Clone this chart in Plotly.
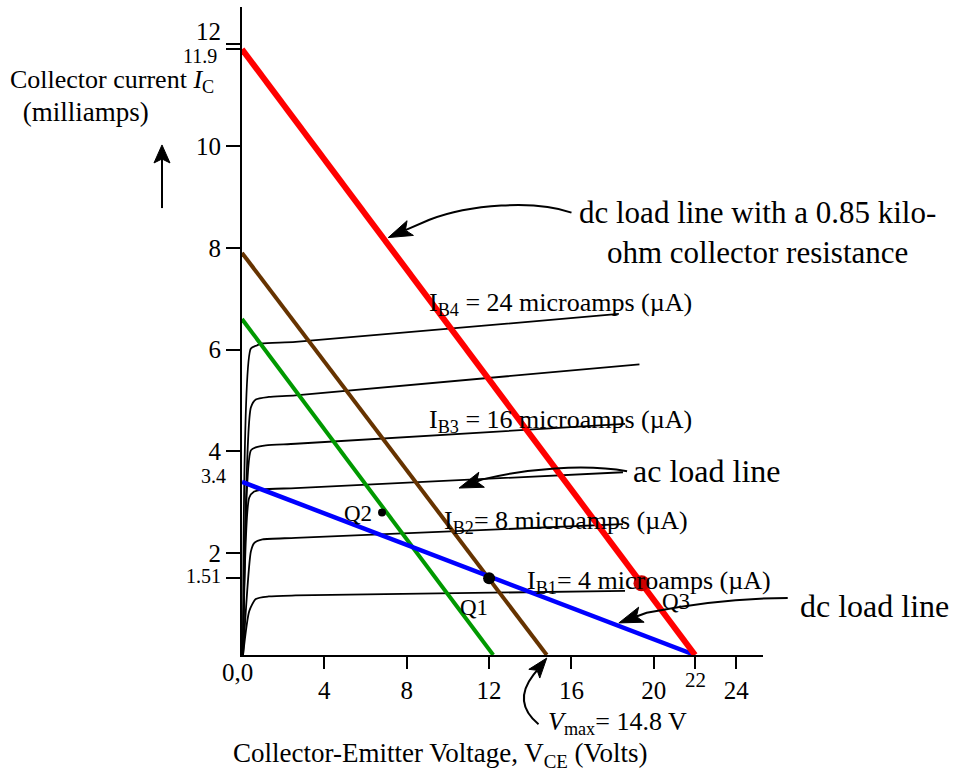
import math
import plotly.graph_objects as go

SERIF = "Liberation Serif"

# ---- axis extents (volts, milliamps) and plot-area size in px ----
X_MAX = 25.3
Y_MAX = 12.73
PLOT_W = 521
PLOT_H = 648
PX_PER_V = PLOT_W / X_MAX
PX_PER_MA = PLOT_H / Y_MAX

# ---- transistor output characteristics, one curve per base current ----
vce_c1 = [0.05, 0.43, 0.72, 0.96, 2.6, 18.3]
ic_c1 = [0.0, 6.02, 6.08, 6.12, 6.15, 6.70]
vce_c2 = [0.05, 0.43, 0.67, 1.3, 2.6, 19.3]
ic_c2 = [0.0, 4.86, 5.02, 5.07, 5.10, 5.71]
vce_c3 = [0.05, 0.43, 0.67, 1.16, 2.6, 18.6]
ic_c3 = [0.0, 4.02, 4.08, 4.12, 4.15, 4.54]
vce_c4 = [0.05, 0.35, 0.59, 1.0, 2.6, 18.5]
ic_c4 = [0.0, 3.09, 3.21, 3.25, 3.28, 3.59]
vce_c5 = [0.05, 0.43, 0.59, 1.0, 2.6, 18.5]
ic_c5 = [0.0, 2.03, 2.20, 2.27, 2.30, 2.57]
vce_c6 = [0.05, 0.35, 0.67, 1.3, 2.6, 18.6]
ic_c6 = [0.0, 0.86, 1.10, 1.15, 1.17, 1.26]

# ---- load lines ----
red_v, red_i = [0, 22], [11.9, 0]        # dc load line, 0.85 kOhm
brown_v, brown_i = [0, 14.8], [7.9, 0]   # ac load line, Vmax = 14.8 V
green_v, green_i = [0, 12.2], [6.6, 0]
blue_v, blue_i = [0, 22], [3.4, 0]       # dc load line

# ---- operating points ----
q1_v, q1_i = 12.0, 1.51
q2_v, q2_i = 6.8, 2.8
q3_v, q3_i = 19.4, 1.41

# ---- axis ticks ----
x_tickvals = [4, 8, 12, 16, 20, 22, 24]
x_ticktext = ["4", "8", "12", "16", "20", "", "24"]
y_tickvals = [1.51, 2, 4, 6, 8, 10, 11.9, 12]
y_ticktext = ["", "2", "4", "6", "8", "10", "", ""]


def to_px(v, i):
    return v * PX_PER_V, -i * PX_PER_MA


def from_px(x, y):
    return x / PX_PER_V, -y / PX_PER_MA


def pp(v, i):
    return f"{v / X_MAX:.5f},{i / Y_MAX:.5f}"


def curved_arrow(start, c1, c2, end, tip, head_len=24, head_half=8, width=2):
    tx, ty = to_px(*tip)
    ex, ey = to_px(*end)
    d = math.hypot(tx - ex, ty - ey)
    ux, uy = (tx - ex) / d, (ty - ey) / d
    nx, ny = -uy, ux
    bx, by = tx - head_len * ux, ty - head_len * uy
    notch = from_px(bx + 0.22 * head_len * ux, by + 0.22 * head_len * uy)
    p1 = from_px(bx + head_half * nx, by + head_half * ny)
    p2 = from_px(bx - head_half * nx, by - head_half * ny)
    body = (f"M{pp(*start)} C{pp(*c1)} {pp(*c2)} {pp(*end)} L{pp(*notch)}")
    head = f"M{pp(*tip)} L{pp(*p1)} L{pp(*notch)} L{pp(*p2)} Z"
    return [
        dict(type="path", xref="paper", yref="paper", path=body,
             line=dict(color="black", width=width), fillcolor="rgba(0,0,0,0)"),
        dict(type="path", xref="paper", yref="paper", path=head,
             line=dict(color="black", width=1), fillcolor="black"),
    ]


fig = go.Figure()

for vv, ii in [(vce_c1, ic_c1), (vce_c2, ic_c2), (vce_c3, ic_c3),
               (vce_c4, ic_c4), (vce_c5, ic_c5), (vce_c6, ic_c6)]:
    fig.add_trace(go.Scatter(x=vv, y=ii, mode="lines",
                             line=dict(color="black", width=1.8, shape="spline", smoothing=0.6),
                             hoverinfo="skip"))

fig.add_trace(go.Scatter(x=green_v, y=green_i, mode="lines", line=dict(color="#009900", width=4)))
fig.add_trace(go.Scatter(x=brown_v, y=brown_i, mode="lines", line=dict(color="#663300", width=4)))
fig.add_trace(go.Scatter(x=blue_v, y=blue_i, mode="lines", line=dict(color="#0000ff", width=4.5)))
fig.add_trace(go.Scatter(x=red_v, y=red_i, mode="lines", line=dict(color="#ff0000", width=6)))

fig.add_trace(go.Scatter(x=[q1_v], y=[q1_i], mode="markers", marker=dict(size=12, color="black")))
fig.add_trace(go.Scatter(x=[q2_v], y=[q2_i], mode="markers", marker=dict(size=8, color="black")))
fig.add_trace(go.Scatter(x=[q3_v], y=[q3_i], mode="markers", marker=dict(size=16, color="#cc0000")))

shapes = []
# dc load line (red) callout
shapes += curved_arrow((16.0, 8.69), (14.2, 8.95), (11.0, 8.85), (9.1, 8.55), (7.1, 8.2))
# ac load line callout
shapes += curved_arrow((18.7, 3.61), (16.6, 3.76), (13.8, 3.66), (11.68, 3.45), (10.54, 3.28))
# dc load line (blue) callout
shapes += curved_arrow((26.5, 1.12), (24.8, 1.12), (22.5, 1.06), (19.65, 0.83), (18.3, 0.63))
# Vmax callout below the axis
shapes += curved_arrow((14.40, -1.36), (13.5, -1.06), (13.5, -0.73), (14.15, -0.39), (14.8, -0.06),
                       head_len=20, head_half=7)
# upward arrow beside the current label
shapes += curved_arrow((-3.885, 8.78), (-3.885, 8.78), (-3.885, 9.5), (-3.885, 9.5), (-3.885, 10.02),
                       head_len=18, head_half=8)


def txt(text, x, y, size, xref="x", yref="y", xanchor="left", yanchor="middle"):
    return dict(text=text, x=x, y=y, xref=xref, yref=yref, xanchor=xanchor, yanchor=yanchor,
                showarrow=False, font=dict(family=SERIF, size=size, color="black"))


annotations = [
    txt("I<sub>B4</sub> = 24 microamps (µA)", 9.0, 6.89, 26),
    txt("I<sub>B3</sub> = 16 microamps (µA)", 9.0, 4.60, 26),
    txt("I<sub>B2</sub>= 8 microamps (µA)", 9.72, 2.62, 26),
    txt("I<sub>B1</sub>= 4 microamps (µA)", 13.73, 1.44, 26),
    txt("dc load line with a 0.85 kilo-<br>ohm collector resistance", 16.25, 8.3, 31),
    txt("ac load line", 18.88, 3.61, 32),
    txt("dc load line", 556 / PLOT_W, 0.97, 32, xref="paper"),
    txt("Q2", 5.64, 2.78, 23, xanchor="center"),
    txt("Q1", 11.28, 0.93, 23, xanchor="center"),
    txt("Q3", 21.06, 1.06, 23, xanchor="center"),
    txt("<i>V</i><sub>max</sub>= 14.8 V", 14.76, -1.34 / Y_MAX, 26, yref="paper"),
    txt("12", -19 / PLOT_W, 12.24, 25, xref="paper", xanchor="right"),
    txt("11.9", -23 / PLOT_W, 11.76, 20, xref="paper", xanchor="right"),
    txt("3.4", -14 / PLOT_W, 3.52, 20, xref="paper", xanchor="right"),
    txt("1.51", -19 / PLOT_W, 1.55, 20, xref="paper", xanchor="right"),
    txt("0,0", -5 / PLOT_W, -18 / PLOT_H, 25, xref="paper", yref="paper", xanchor="center"),
    txt("22", 22, -25 / PLOT_H, 21, yref="paper", xanchor="center"),
    txt("Collector current <i>I</i><sub>C</sub>", -234 / PLOT_W, 574 / PLOT_H, 26,
        xref="paper", yref="paper"),
    txt(" (milliamps)", -228 / PLOT_W, 543 / PLOT_H, 27, xref="paper", yref="paper"),
    txt("Collector-Emitter Voltage, V<sub>CE</sub> (Volts)", 198 / PLOT_W, -100 / PLOT_H, 27,
        xref="paper", yref="paper", xanchor="center"),
]

axis_common = dict(showline=True, linecolor="black", linewidth=2, ticks="outside",
                   tickcolor="black", tickwidth=2, showgrid=False, zeroline=False,
                   tickfont=dict(family=SERIF, size=25, color="black"), fixedrange=True)

fig.update_layout(
    width=953, height=774,
    margin=dict(l=242, r=953 - 242 - PLOT_W, t=7, b=774 - 7 - PLOT_H, pad=0),
    plot_bgcolor="white", paper_bgcolor="white", showlegend=False,
    xaxis=dict(range=[0, X_MAX], tickvals=x_tickvals, ticktext=x_ticktext, ticklen=12, **axis_common),
    yaxis=dict(range=[0, Y_MAX], tickvals=y_tickvals, ticktext=y_ticktext, ticklen=14, **axis_common),
    shapes=shapes,
    annotations=annotations,
)

fig.write_html("out.html")
